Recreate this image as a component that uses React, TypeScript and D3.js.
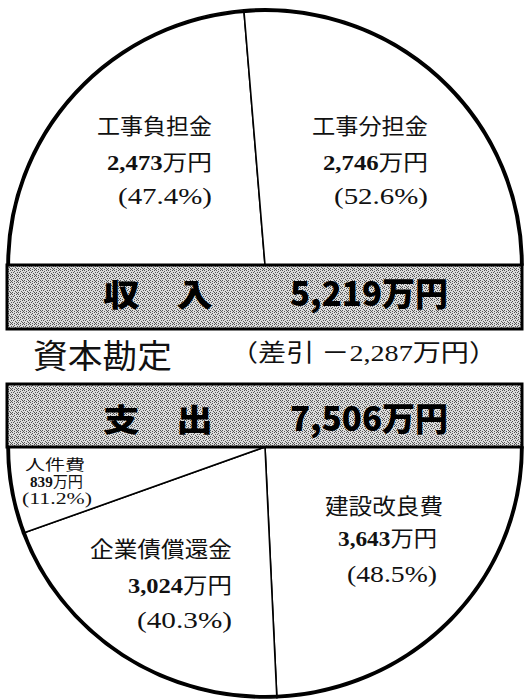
import React from "react";
import * as d3 from "d3";

// ---- data ----
const incomeCategories = ["工事負担金", "工事分担金"];
const incomeValues = [2473, 2746];
const expenseCategories = ["建設改良費", "企業債償還金", "人件費"];
const expenseValues = [3643, 3024, 839];
const accountTitle = "資本勘定";
const incomeTitle = "収　入";
const expenseTitle = "支　出";

// ---- layout (positions/styles only) ----
const W = 525;
const H = 700;
const upper = { cx: 265, cy: 265, rx: 258, ry: 256 };
const lower = { cx: 265, cy: 447, rx: 258, ry: 251 };
const band1 = { x: 7, y: 265, w: 515, h: 64 };
const band2 = { x: 7, y: 384, w: 515, h: 63 };

type LabelLayout = { xs: number[]; ys: number[]; lens: number[]; sizes: number[] };
const incomeLabelLayout: LabelLayout[] = [
  { xs: [212, 212, 212], ys: [126, 162, 196], lens: [115, 105, 94], sizes: [22, 22, 24] },
  { xs: [428, 428, 428], ys: [126, 162, 196], lens: [116, 105, 94], sizes: [22, 22, 24] },
];
const expenseLabelLayout: LabelLayout[] = [
  { xs: [443, 437, 437], ys: [506, 538, 574], lens: [118, 99, 90], sizes: [22, 22, 24] },
  { xs: [232, 232, 232], ys: [549, 585, 620], lens: [142, 104, 95], sizes: [22, 22, 24] },
  { xs: [85, 83, 92], ys: [465, 482, 498], lens: [60, 53, 70], sizes: [15, 15, 16] },
];

const fmtNum = d3.format(",");
const fmtPct = d3.format(".1%");
const serif = "'Liberation Serif', 'DejaVu Serif', 'Noto Sans CJK JP', serif";
const gothic = "'Noto Sans CJK JP', 'DejaVu Sans', sans-serif";

function HalfPie({
  values,
  start,
  end,
  geom,
}: {
  values: number[];
  start: number;
  end: number;
  geom: { cx: number; cy: number; rx: number; ry: number };
}) {
  const arcs = d3.pie<number>().sort(null).startAngle(start).endAngle(end)(values);
  const sliceArc = d3.arc<d3.PieArcDatum<number>>().innerRadius(0).outerRadius(1);
  const ring = d3
    .arc<any>()
    .innerRadius(1 - 3 / geom.rx)
    .outerRadius(1)
    .startAngle(start)
    .endAngle(end);
  return (
    <g transform={`translate(${geom.cx},${geom.cy}) scale(${geom.rx},${geom.ry})`}>
      {arcs.map((a, i) => (
        <path
          key={i}
          d={sliceArc(a) || ""}
          fill="#fff"
          stroke="#000"
          strokeWidth={1.6}
          vectorEffect="non-scaling-stroke"
        />
      ))}
      <path d={ring({}) || ""} fill="#000" />
    </g>
  );
}

function Labels({
  cats,
  values,
  layout,
}: {
  cats: string[];
  values: number[];
  layout: LabelLayout[];
}) {
  const total = d3.sum(values);
  return (
    <g fill="#111" fontFamily={serif}>
      {cats.map((c, i) => {
        const L = layout[i];
        const common = (j: number) => ({
          x: L.xs[j],
          y: L.ys[j],
          textAnchor: "end" as const,
          dominantBaseline: "central" as const,
          fontSize: L.sizes[j],
          textLength: L.lens[j],
          lengthAdjust: "spacingAndGlyphs" as const,
        });
        return (
          <g key={i}>
            <text {...common(0)}>{c}</text>
            <text {...common(1)}>
              <tspan fontWeight={700}>{fmtNum(values[i])}</tspan>
              <tspan>万円</tspan>
            </text>
            <text {...common(2)}>{`(${fmtPct(values[i] / total)})`}</text>
          </g>
        );
      })}
    </g>
  );
}

function Band({
  b,
  title,
  total,
  ty,
}: {
  b: { x: number; y: number; w: number; h: number };
  title: string;
  total: number;
  ty: number;
}) {
  return (
    <g>
      <rect x={b.x} y={b.y} width={b.w} height={b.h} fill="url(#stipple)" stroke="#000" strokeWidth={3} />
      <text
        x={103}
        y={ty}
        dominantBaseline="central"
        fontFamily={gothic}
        fontWeight={900}
        fontSize={31}
        textLength={110}
        lengthAdjust="spacingAndGlyphs"
        fill="#000"
      >
        {title}
      </text>
      <text
        x={290}
        y={ty}
        dominantBaseline="central"
        fontFamily={gothic}
        fontWeight={900}
        fontSize={33}
        textLength={158}
        lengthAdjust="spacingAndGlyphs"
        fill="#000"
      >
        {`${fmtNum(total)}万円`}
      </text>
    </g>
  );
}

export default function App() {
  const incomeTotal = d3.sum(incomeValues);
  const expenseTotal = d3.sum(expenseValues);
  const diff = incomeTotal - expenseTotal;
  const diffText = `（差引 ${diff < 0 ? "－" : ""}${fmtNum(Math.abs(diff))}万円）`;
  const dots = [
    [0, 0], [4, 0], [2, 1], [5, 2], [1, 2], [3, 3], [0, 4], [4, 4], [2, 5], [5, 5],
  ];
  return (
    <svg
      width={W}
      height={H}
      viewBox={`0 0 ${W} ${H}`}
      style={{ position: "absolute", left: 0, top: 0, display: "block", background: "#fff" }}
    >
      <defs>
        <pattern id="stipple" width={6} height={6} patternUnits="userSpaceOnUse">
          <rect width={6} height={6} fill="#dcdcdc" />
          {dots.map(([x, y], i) => (
            <rect key={i} x={x} y={y} width={1} height={1} fill="#555" shapeRendering="crispEdges" />
          ))}
        </pattern>
      </defs>
      <rect width={W} height={H} fill="#fff" />

      <HalfPie values={incomeValues} start={-Math.PI / 2} end={Math.PI / 2} geom={upper} />
      <HalfPie values={expenseValues} start={Math.PI / 2} end={(3 * Math.PI) / 2} geom={lower} />

      <Labels cats={incomeCategories} values={incomeValues} layout={incomeLabelLayout} />
      <Labels cats={expenseCategories} values={expenseValues} layout={expenseLabelLayout} />

      <Band b={band1} title={incomeTitle} total={incomeTotal} ty={292} />
      <Band b={band2} title={expenseTitle} total={expenseTotal} ty={417} />

      <text
        x={33}
        y={357}
        dominantBaseline="central"
        fontFamily={serif}
        fontSize={33}
        textLength={139}
        lengthAdjust="spacingAndGlyphs"
        fill="#111"
      >
        {accountTitle}
      </text>
      <text
        x={230}
        y={353}
        dominantBaseline="central"
        fontFamily={serif}
        fontSize={24}
        textLength={267}
        lengthAdjust="spacingAndGlyphs"
        fill="#111"
      >
        {diffText}
      </text>
    </svg>
  );
}
